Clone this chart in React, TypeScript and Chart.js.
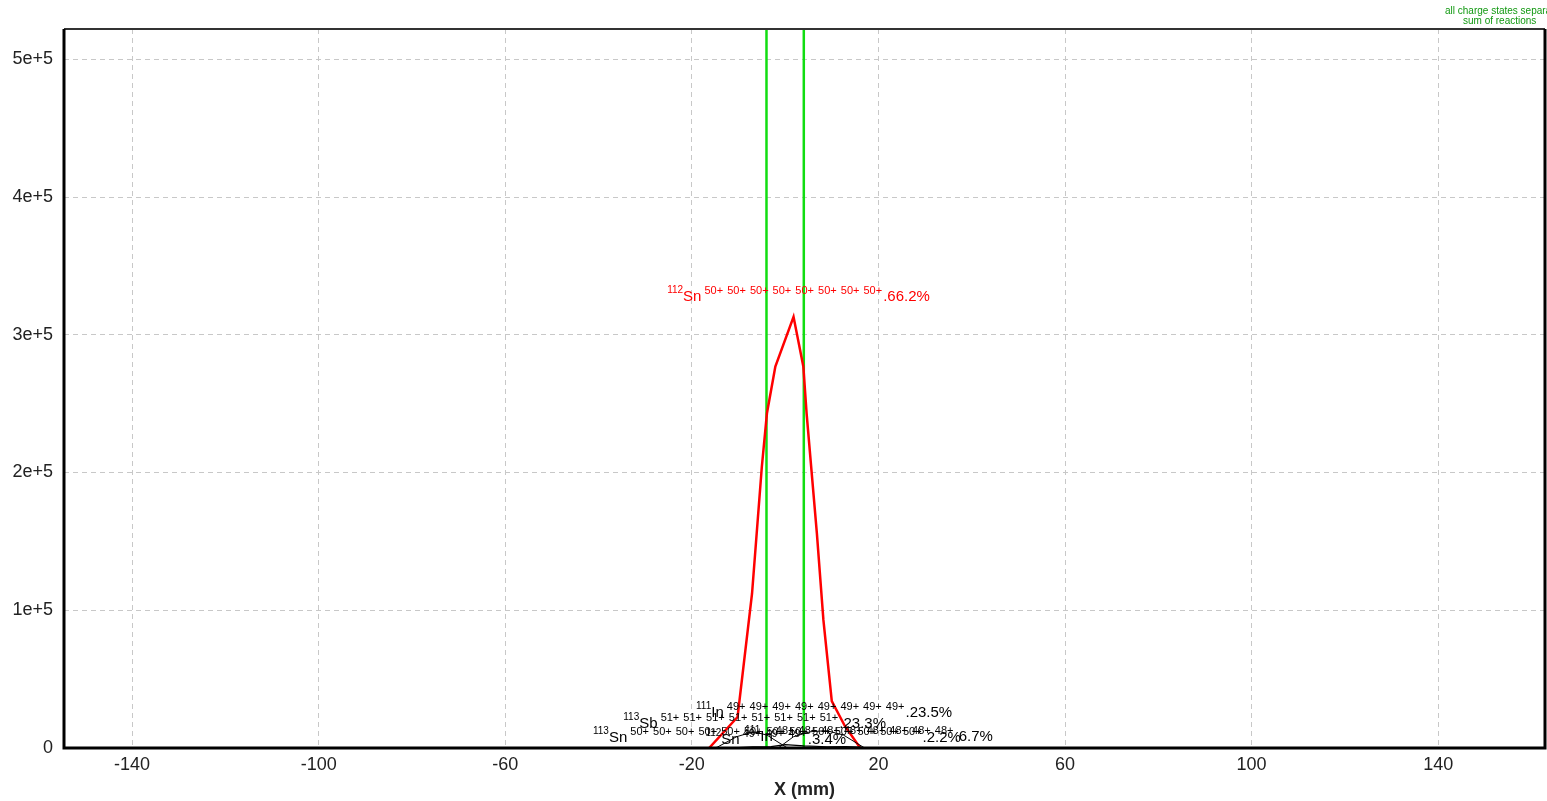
import React, { useEffect, useRef } from 'react';
import { Chart, registerables } from 'chart.js';

Chart.register(...registerables);

// Axes
const X_TICKS = [-140, -100, -60, -20, 20, 60, 100, 140];
const Y_TICKS = [0, 100000, 200000, 300000, 400000, 500000];
const X_MIN = -154.6;
const X_MAX = 162.9;
const Y_MIN = 0;
const Y_MAX = 522000;

// 112Sn 50+ (main, red)
const SN112_X = [-16.3, -10.2, -7.1, -5.0, -3.9, -2.1, 1.8, 3.9, 4.6, 6.8, 8.2, 10.0, 12.8, 16.1];
const SN112_Y = [0, 22500, 112000, 204000, 243000, 277000, 313000, 277000, 243000, 156000, 93000, 34000, 16000, 0];

// 113Sb 51+ (black)
const SB113_X = [-15.5, -14.6, -10.4, -6.8, -3.9, -1.1, 0.5];
const SB113_Y = [0, 500, 8200, 11800, 9400, 3400, 0];

// 111In 49+ (black)
const IN111_X = [-1.5, 1.8, 5.4, 8.9, 12.5, 15.4, 16.8, 17.5];
const IN111_Y = [0, 8200, 11800, 12600, 9400, 3400, 500, 0];

// 113Sn 50+ (black, small)
const SN113_X = [-12, -7, -3, 0, 4, 9, 13, 16, 18];
const SN113_Y = [0, 900, 1000, 2500, 1500, 900, 1000, 700, 0];

// Slit / gate lines (green)
const GATE_X = [-4, 4];

// Isotope labels
const LABEL_MASS = ['112', '111', '113', '113', '112', '111'];
const LABEL_ELEM = ['Sn', 'In', 'Sb', 'Sn', 'Sn', 'In'];
const LABEL_CHARGE = ['50+', '49+', '51+', '50+', '49+', '48+'];
const LABEL_COUNT = [8, 8, 8, 13, 3, 8];
const LABEL_PCT = ['66.2%', '23.5%', '23.3%', '2.2%', '3.4%', '6.7%'];
const LABEL_X = [-25.3, -19.1, -34.7, -41.2, -17.1, -8.6];
const LABEL_Y = [324400, 22500, 14500, 4400, 2900, 5100];
const LABEL_COLOR = ['#ff0000', '#000000', '#000000', '#000000', '#000000', '#000000'];

const LEGEND_LINES = ['all charge states separated', 'sum of reactions'];

const FONT = '"Liberation Sans", Arial, sans-serif';

const toPts = (xs: number[], ys: number[]) => xs.map((x, i) => ({ x, y: ys[i] }));

const overlayPlugin = {
  id: 'overlay',
  afterDatasetsDraw(chart: any) {
    const { ctx, scales } = chart;
    const xs = scales.x;
    const ys = scales.y;
    ctx.save();
    for (let i = 0; i < LABEL_MASS.length; i++) {
      let px = xs.getPixelForValue(LABEL_X[i]);
      const py = ys.getPixelForValue(LABEL_Y[i]);
      ctx.fillStyle = LABEL_COLOR[i];
      ctx.textAlign = 'left';
      ctx.textBaseline = 'alphabetic';
      ctx.font = `10px ${FONT}`;
      ctx.fillText(LABEL_MASS[i], px, py - 8);
      px += ctx.measureText(LABEL_MASS[i]).width;
      ctx.font = `15px ${FONT}`;
      ctx.fillText(LABEL_ELEM[i], px, py);
      px += ctx.measureText(LABEL_ELEM[i]).width;
      ctx.font = `11px ${FONT}`;
      const adv = ctx.measureText(' ' + LABEL_CHARGE[i]).width + 1;
      for (let k = 0; k < LABEL_COUNT[i]; k++) {
        ctx.fillText(' ' + LABEL_CHARGE[i], px, py - 7);
        px += adv;
      }
      ctx.font = `15px ${FONT}`;
      ctx.fillText('.' + LABEL_PCT[i], px, py);
    }
    ctx.restore();
  },
  afterDraw(chart: any) {
    const { ctx, chartArea } = chart;
    const { left, right, top, bottom } = chartArea;
    ctx.save();
    ctx.strokeStyle = '#333333';
    ctx.lineWidth = 2;
    ctx.beginPath();
    ctx.moveTo(left, top);
    ctx.lineTo(right, top);
    ctx.stroke();
    ctx.strokeStyle = '#000000';
    ctx.lineWidth = 3;
    ctx.beginPath();
    ctx.moveTo(left, top);
    ctx.lineTo(left, bottom);
    ctx.lineTo(right, bottom);
    ctx.lineTo(right, top);
    ctx.stroke();
    ctx.fillStyle = '#222222';
    ctx.font = `bold 18px ${FONT}`;
    ctx.textAlign = 'center';
    ctx.textBaseline = 'alphabetic';
    ctx.fillText('X (mm)', (left + right) / 2, 795);
    ctx.fillStyle = '#119911';
    ctx.font = `10px ${FONT}`;
    ctx.textAlign = 'left';
    ctx.fillText(LEGEND_LINES[0], 1445, 14);
    ctx.fillText(LEGEND_LINES[1], 1463, 24);
    ctx.restore();
  },
};

export default function App() {
  const ref = useRef<HTMLCanvasElement | null>(null);

  useEffect(() => {
    document.body.style.margin = '0';
    const canvas = ref.current;
    if (!canvas) return;

    const datasets: any[] = [
      { data: toPts(SN113_X, SN113_Y), borderColor: '#000000', borderWidth: 1.2 },
      { data: toPts(SB113_X, SB113_Y), borderColor: '#000000', borderWidth: 1 },
      { data: toPts(IN111_X, IN111_Y), borderColor: '#000000', borderWidth: 1 },
      { data: toPts(SN112_X, SN112_Y), borderColor: '#ff0000', borderWidth: 2.5 },
      ...GATE_X.map((gx) => ({
        data: [
          { x: gx, y: Y_MIN },
          { x: gx, y: Y_MAX },
        ],
        borderColor: '#11dd11',
        borderWidth: 2.5,
      })),
    ].map((d) => ({ ...d, pointRadius: 0, fill: false, tension: 0, showLine: true }));

    const chart = new Chart(canvas, {
      type: 'scatter',
      data: { datasets },
      options: {
        animation: false,
        responsive: false,
        maintainAspectRatio: false,
        layout: { padding: { top: 29, right: 2, left: 0, bottom: 0 } },
        plugins: { legend: { display: false }, tooltip: { enabled: false } },
        scales: {
          x: {
            type: 'linear',
            min: X_MIN,
            max: X_MAX,
            afterBuildTicks: (s: any) => {
              s.ticks = X_TICKS.map((v) => ({ value: v }));
            },
            afterFit: (s: any) => {
              s.height = 53;
            },
            grid: { color: '#c8c8c8', lineWidth: 1, drawTicks: false },
            border: { display: false, dash: [5, 4] },
            ticks: {
              padding: 6,
              color: '#222222',
              font: { family: FONT, size: 18 },
              maxRotation: 0,
              autoSkip: false,
              callback: (v: any) => String(v),
            },
          },
          y: {
            type: 'linear',
            min: Y_MIN,
            max: Y_MAX,
            afterBuildTicks: (s: any) => {
              s.ticks = Y_TICKS.map((v) => ({ value: v }));
            },
            afterFit: (s: any) => {
              s.width = 64;
            },
            grid: { color: '#c8c8c8', lineWidth: 1, drawTicks: false },
            border: { display: false, dash: [5, 4] },
            ticks: {
              padding: 11,
              color: '#222222',
              font: { family: FONT, size: 18 },
              autoSkip: false,
              callback: (v: any) => (v === 0 ? '0' : `${Math.round(v / 100000)}e+5`),
            },
          },
        },
      },
      plugins: [overlayPlugin],
    });

    return () => chart.destroy();
  }, []);

  return (
    <div style={{ width: 1547, height: 801 }}>
      <canvas ref={ref} width={1547} height={801} style={{ display: 'block' }} />
    </div>
  );
}
